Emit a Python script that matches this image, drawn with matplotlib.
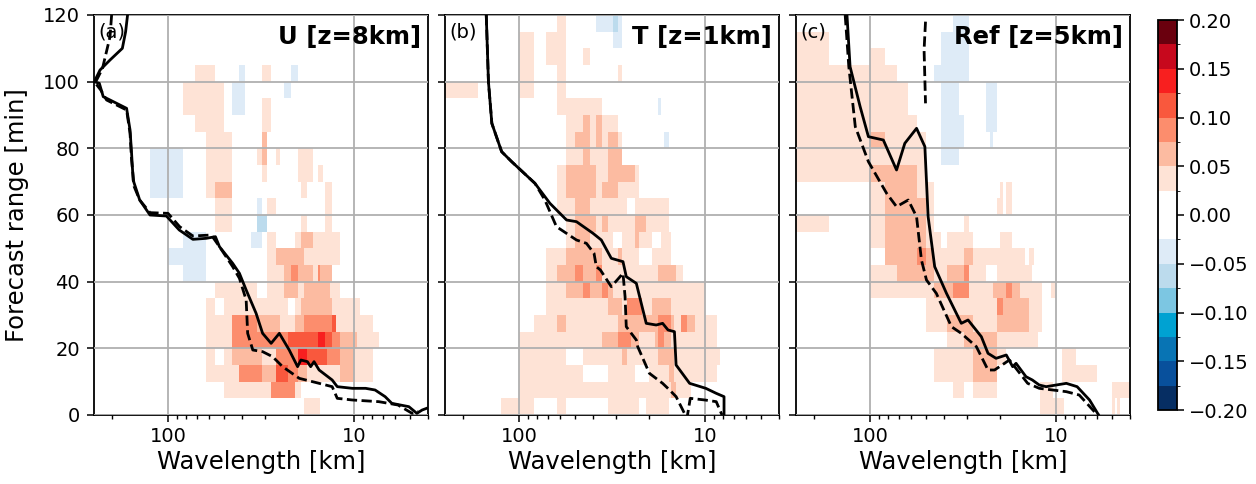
import numpy as np
import matplotlib.pyplot as plt
from matplotlib.colors import ListedColormap, BoundaryNorm
from matplotlib.ticker import FuncFormatter, NullFormatter, FixedLocator

# wavenumber bins -> wavelength edges [km], forecast time bins [min]
k_edges = np.arange(2, 126)
t_edges = np.arange(0, 125, 5)

levels = np.arange(-0.2, 0.2001, 0.025)
colors = ["#062e63", "#08509c", "#0874b4", "#00a2d2", "#7cc6e2", "#bcdbed",
          "#deebf7", "#ffffff", "#ffffff", "#fee3d6", "#fcbba1", "#fc8d6d",
          "#f9583d", "#f81f1f", "#c7081d", "#6a000e"]

# (k_start, k_end, t_start, t_end, value)
patches_u = [
    (7, 9, 100, 105, .04), (12, 13, 100, 105, -.04), (16, 18, 100, 105, .04),
    (23, 25, 100, 105, -.04), (6, 10, 90, 100, .04), (11, 13, 90, 100, -.04),
    (21, 23, 95, 100, -.04), (7, 10, 85, 90, .04), (8, 11, 65, 85, .04),
    (9, 11, 65, 70, .06), (9, 11, 60, 65, .04), (16, 18, 85, 95, .04),
    (16, 17, 75, 85, .06), (15, 16, 75, 80, .04), (16, 17, 70, 75, .04),
    (19, 20, 75, 80, .04), (4, 6, 65, 80, -.04), (25, 30, 70, 80, .04),
    (26, 28, 65, 70, .04), (32, 34, 70, 75, .04), (35, 38, 60, 70, .04),
    (15, 16, 60, 65, -.04), (17, 19, 60, 65, .04),
    (9, 11, 55, 60, .04), (15, 17, 55, 60, -.06), (14, 16, 50, 55, -.04),
    (26, 28, 55, 60, .04), (35, 38, 55, 60, .04), (17, 19, 50, 55, .04),
    (24, 26, 50, 55, .04), (26, 30, 50, 55, .06), (30, 42, 50, 55, .04),
    (6, 8, 40, 55, -.04), (5, 8, 45, 50, -.04),
    (17, 19, 45, 50, .04), (19, 27, 45, 50, .06), (27, 42, 45, 50, .04),
    (17, 21, 40, 45, .04), (21, 30, 40, 45, .06), (23, 25, 40, 45, .09),
    (30, 32, 40, 45, .04), (32, 38, 40, 45, .06), (32, 33, 40, 45, .09),
    (9, 15, 35, 40, .04), (17, 21, 35, 40, .04), (21, 25, 35, 40, .06),
    (25, 27, 35, 40, .04), (27, 37, 35, 40, .06), (37, 42, 35, 40, .04),
    (8, 9, 30, 35, .04), (10, 22, 30, 35, .04), (24, 26, 30, 35, .04),
    (26, 38, 30, 35, .06), (38, 54, 30, 35, .04),
    (8, 11, 25, 30, .04), (11, 15, 25, 30, .09), (15, 20, 25, 30, .06),
    (20, 24, 25, 30, .04), (24, 27, 25, 30, .06), (27, 38, 25, 30, .09),
    (38, 40, 25, 30, .11), (40, 63, 25, 30, .04),
    (8, 11, 20, 25, .04), (11, 22, 20, 25, .09), (22, 32, 20, 25, .11),
    (32, 35, 20, 25, .14), (35, 38, 20, 25, .11), (38, 42, 20, 25, .09),
    (42, 52, 20, 25, .06), (52, 68, 20, 25, .04),
    (8, 9, 15, 20, .04), (10, 11, 15, 20, .04), (11, 16, 15, 20, .06),
    (16, 19, 15, 20, .04), (19, 25, 15, 20, .09), (25, 28, 15, 20, .14),
    (28, 36, 15, 20, .11), (36, 42, 15, 20, .09), (42, 50, 15, 20, .06),
    (50, 63, 15, 20, .04),
    (8, 12, 10, 15, .04), (12, 16, 10, 15, .09), (16, 19, 10, 15, .06),
    (19, 22, 10, 15, .11), (22, 25, 10, 15, .09), (25, 28, 10, 15, .06),
    (28, 42, 10, 15, .04), (42, 50, 10, 15, .06), (50, 63, 10, 15, .04),
    (10, 18, 5, 10, .04), (18, 24, 5, 10, .09), (24, 26, 5, 10, .04),
    (27, 33, 0, 5, .04),
]

patches_t = [
    (8, 9, 115, 120, .04), (13, 16, 115, 120, -.04), (16, 17, 115, 120, -.06),
    (17, 18, 115, 120, -.04), (16, 18, 110, 115, -.04),
    (5, 6, 95, 115, .04), (7, 9, 105, 115, .04), (8, 9, 95, 105, .04),
    (11, 12, 105, 110, .04), (17, 18, 100, 105, .04), (2, 3, 95, 100, .04),
    (8, 14, 90, 95, .04), (28, 29, 90, 95, -.04),
    (9, 17, 85, 90, .04), (11, 12, 85, 90, .06), (13, 14, 85, 90, .06),
    (9, 18, 80, 85, .04), (10, 12, 80, 85, .06), (13, 14, 80, 85, .06),
    (15, 17, 80, 85, .06), (30, 32, 80, 85, -.04),
    (9, 18, 75, 80, .04), (11, 12, 75, 80, .06), (15, 18, 75, 80, .06),
    (8, 22, 70, 75, .04), (9, 13, 70, 75, .06), (15, 21, 70, 75, .06),
    (8, 22, 65, 70, .04), (9, 13, 65, 70, .06), (14, 17, 65, 70, .06),
    (8, 32, 60, 65, .04), (10, 12, 60, 65, .06), (19, 21, 60, 65, 0),
    (9, 32, 55, 60, .04), (10, 13, 55, 60, .06), (14, 15, 55, 60, .06),
    (21, 24, 55, 60, .06),
    (9, 33, 50, 55, .04), (10, 12, 50, 55, .06), (21, 22, 50, 55, .06),
    (16, 18, 50, 55, 0), (26, 29, 50, 55, 0),
    (7, 33, 45, 50, .04), (9, 14, 45, 50, .06), (17, 18, 45, 50, .06),
    (22, 26, 45, 50, 0),
    (7, 38, 40, 45, .04), (8, 13, 40, 45, .06), (10, 11, 40, 45, .09),
    (13, 14, 40, 45, .09), (28, 35, 40, 45, .06),
    (7, 50, 35, 40, .04), (9, 13, 35, 40, .06), (11, 12, 35, 40, .09),
    (13, 16, 35, 40, .06), (14, 15, 35, 40, .09),
    (7, 50, 30, 35, .04), (15, 18, 30, 35, .06), (19, 23, 30, 35, .09),
    (26, 33, 30, 35, .06),
    (6, 58, 25, 30, .04), (8, 9, 25, 30, .06), (17, 34, 25, 30, .06),
    (28, 33, 25, 30, .09), (37, 40, 25, 30, .09), (40, 44, 25, 30, .06),
    (5, 58, 20, 25, .04), (14, 22, 20, 25, .06), (17, 20, 20, 25, .09),
    (27, 33, 20, 25, .06), (28, 30, 20, 25, .09),
    (5, 60, 15, 20, .04), (9, 11, 15, 20, 0), (18, 19, 15, 20, .06),
    (28, 34, 15, 20, .06),
    (5, 58, 10, 15, .04), (11, 15, 10, 15, 0), (21, 25, 10, 15, 0),
    (32, 34, 10, 15, .06),
    (5, 42, 5, 10, .04), (33, 35, 5, 10, .06),
    (4, 6, 0, 5, .04), (8, 9, 0, 5, .04), (15, 22, 0, 5, .04),
    (24, 32, 0, 5, .04),
]

patches_ref = [
    (2, 3, 105, 115, .04), (5, 6, 105, 110, .04), (2, 7, 100, 105, .04),
    (2, 8, 90, 100, .04), (2, 9, 85, 90, .04), (2, 10, 75, 85, .04),
    (5, 6, 80, 85, .06),
    (2, 5, 70, 75, .04), (5, 9, 70, 75, .06), (9, 10, 70, 75, .04),
    (5, 6, 65, 70, .04), (6, 9, 65, 70, .06), (9, 11, 65, 70, .04),
    (5, 6, 60, 65, .04), (6, 10, 60, 65, .06), (10, 11, 60, 65, .04),
    (14, 17, 115, 120, -.04), (12, 17, 105, 115, -.04), (11, 17, 100, 105, -.04),
    (12, 15, 90, 100, -.04), (12, 16, 80, 90, -.04), (12, 15, 75, 80, -.04),
    (21, 24, 85, 100, -.04), (22, 23, 80, 85, -.04),
    (25, 26, 60, 70, .04), (27, 29, 60, 70, .04), (24, 25, 60, 65, .04),
    (2, 3, 55, 60, .04), (5, 6, 55, 60, .04), (6, 10, 55, 60, .06),
    (10, 11, 55, 60, .04), (16, 17, 55, 60, .04),
    (5, 6, 50, 55, .04), (6, 10, 50, 55, .06), (10, 12, 50, 55, .04),
    (13, 18, 50, 55, .04), (25, 29, 50, 55, .04),
    (6, 9, 45, 50, .06), (9, 10, 45, 50, .09), (10, 11, 45, 50, .06),
    (11, 16, 45, 50, .04), (16, 18, 45, 50, .06), (18, 34, 45, 50, .04),
    (36, 38, 45, 50, .04),
    (5, 7, 40, 45, .04), (7, 11, 40, 45, .06), (11, 13, 40, 45, .04),
    (13, 17, 40, 45, .06), (16, 17, 40, 45, .09), (17, 21, 40, 45, .04),
    (24, 37, 40, 45, .04),
    (5, 11, 35, 40, .04), (11, 17, 35, 40, .06), (14, 17, 35, 40, .09),
    (17, 23, 35, 40, .04), (23, 32, 35, 40, .06), (27, 29, 35, 40, .09),
    (32, 42, 35, 40, .04), (47, 50, 35, 40, .04),
    (10, 24, 30, 35, .04), (24, 36, 30, 35, .06), (24, 26, 30, 35, .09),
    (36, 42, 30, 35, .04),
    (10, 13, 25, 30, .04), (13, 18, 25, 30, .06), (18, 24, 25, 30, .04),
    (24, 36, 25, 30, .06), (36, 42, 25, 30, .04),
    (13, 16, 20, 25, .04), (16, 24, 20, 25, .06), (24, 40, 20, 25, .04),
    (11, 27, 15, 20, .04), (18, 24, 15, 20, .06), (54, 64, 15, 20, .04),
    (11, 24, 10, 15, .04), (18, 24, 10, 15, .06), (54, 83, 10, 15, .04),
    (14, 16, 5, 10, .04), (18, 24, 5, 10, .04), (41, 48, 5, 10, .04),
    (100, 125, 5, 10, .04),
    (41, 55, 0, 5, .04), (100, 104, 0, 5, .04), (107, 110, 0, 5, .04),
]

# contour lines: forecast time [min] and wavelength [km]
u_solid_t = [120, 115, 110, 106.5, 103.5, 100, 99.5, 95.5, 94.5, 92, 85.5, 78.5,
             70.5, 64.5, 60, 59.7, 55.5, 52.7, 53, 53.5, 50.5, 45.5, 42.5, 37.5,
             30.5, 24.5, 21.5, 24.5, 19.5, 14.5, 16.5, 16, 14.5, 16, 13.5, 10.5,
             8.5, 8, 8, 7.5, 5.5, 3.5, 2.5, 0.5, 1.5, 2]
u_solid_l = [165, 169, 176, 205, 232, 249, 234, 223, 205, 167, 160, 157,
             154, 142, 125, 102, 87, 73.5, 62.3, 55.6, 52.9, 44.9, 41.3, 38,
             33.6, 31, 27.9, 25.2, 22.3, 20.1, 19.3, 17.8, 17.1, 16.4, 15.4, 13.1,
             12.3, 10.2, 8.66, 7.7, 6.8, 6.26, 5.07, 4.59, 4.3, 4.07]
u_dash_t = [120, 113.5, 104, 100.5, 100, 97.5, 94.5, 91.5, 84.5, 76.5, 68.5, 64.5,
            60.7, 60.5, 56.5, 53.7, 54, 50.5, 44.5, 41, 34.5, 24.5, 19.5, 19,
            17.5, 14.5, 11, 9.5, 8.5, 5, 4.5, 4, 3, 0.5, 1]
u_dash_l = [201, 205, 225, 242, 249, 230, 214, 167, 160, 157, 152, 142,
            125, 100, 86.6, 73.5, 58.5, 52.9, 44.9, 41.3, 38, 37.3, 35, 31,
            27.4, 24.2, 19.7, 15.4, 13.1, 12.3, 10.2, 7.35, 5.8, 4.87, 4.5]

t_solid_t = [120, 100, 87.5, 79, 76, 69.5, 63.5, 58.5, 58, 54.5, 52.5, 47, 46,
             41.5, 39.5, 27.5, 27, 27.5, 25.5, 25, 15, 9.5, 8, 6.5, 5.5, 0]
t_solid_l = [150, 146, 140, 124, 109.5, 82.1, 68.2, 55.5, 49.1, 40, 36.1, 31.9, 27.6,
             26.5, 23.4, 20.7, 18.3, 16.9, 15.8, 14.6, 14.3, 12.1, 9.9, 8.7, 7.9, 7.9]
t_dash_t = [120, 100, 87.5, 79, 76, 69.5, 64.5, 56.5, 52.5, 51.5, 48.5, 44.5,
            43.5, 38.5, 42.5, 35.5, 26.5, 22.5, 20.5, 12.5, 9.5, 7.5, 5.5, -1,
            5, 4.5, 4, 0]
t_dash_l = [150, 146, 140, 124, 109.5, 82.1, 72.6, 62.9, 49.1, 43.4, 39.5, 38.4,
            36.5, 31.9, 27.6, 26.9, 26.5, 23.4, 23.0, 19.9, 16.9, 15.5, 14.3, 12.5,
            12.0, 10.0, 8.7, 8.1]

r_solid_t = [120, 104.5, 92.5, 83.5, 82.5, 73.5, 81.5, 86, 80.5, 59.5, 44.5, 36.5,
             27.5, 28.5, 23.5, 18.5, 17, 18, 14.5, 15.5, 11.5, 10.5, 9, 8.5, 9.5,
             8.5, 4.5, 0]
r_solid_l = [133, 128, 113, 102, 84.8, 72, 65, 56.2, 50.7, 48.7, 44.9, 38.8,
             32.3, 29.7, 25.2, 23.2, 21, 18.5, 17.1, 16.4, 14.5, 13.4, 12.3, 11.3, 8.8,
             7.7, 6.6, 5.9]
r_dash_t = [120, 104.5, 86.5, 76, 66.5, 62.5, 64.5, 59.5, 46.5, 40.5, 36.5, 26.5,
            24.5, 20.5, 13.5, 13.5, 16.5, 9.5, 8, 7, 6, 0.5, 0]
r_dash_l = [136, 130, 120, 102, 81.4, 72, 62.3, 56.2, 52.9, 49.7, 44, 36.5,
            32.3, 26.8, 23.2, 21.4, 17.8, 14.2, 12.3, 8.8, 7.5, 6.1, 5.9]
r_dash2_t = [118, 109.5, 93.5]
r_dash2_l = [50.3, 51.2, 50.3]

panels = [
    ("(a)", "U [z=8km]", patches_u, [(u_solid_t, u_solid_l, "-"), (u_dash_t, u_dash_l, "--")]),
    ("(b)", "T [z=1km]", patches_t, [(t_solid_t, t_solid_l, "-"), (t_dash_t, t_dash_l, "--")]),
    ("(c)", "Ref [z=5km]", patches_ref, [(r_solid_t, r_solid_l, "-"), (r_dash_t, r_dash_l, "--"),
                                          (r_dash2_t, r_dash2_l, "--")]),
]


def to_grid(patches):
    z = np.zeros((len(t_edges) - 1, len(k_edges) - 1))
    for k0, k1, t0, t1, v in patches:
        z[t0 // 5:t1 // 5, k0 - 2:k1 - 2] = v
    return z


cmap = ListedColormap(colors)
norm = BoundaryNorm(levels, cmap.N)
wl_edges = 500.0 / k_edges

fig = plt.figure(figsize=(12.56, 4.84), dpi=100)
lefts = [94, 445, 796]
for i, (tag, title, patches, lines) in enumerate(panels):
    ax = fig.add_axes([lefts[i] / 1256, 1 - 415 / 484, 334 / 1256, 400 / 484])
    ax.set_xscale("log")
    mesh = ax.pcolormesh(wl_edges, t_edges, to_grid(patches), cmap=cmap, norm=norm,
                         shading="flat", zorder=0)
    for tt, ll, ls in lines:
        ax.plot(ll, tt, color="black", ls=ls, lw=2.0, zorder=3)
    ax.set_xlim(250, 4)
    ax.set_ylim(0, 120)
    ax.set_yticks(np.arange(0, 121, 20))
    ax.xaxis.set_major_locator(FixedLocator([100, 10]))
    ax.xaxis.set_major_formatter(FuncFormatter(lambda v, p: "%d" % round(v)))
    ax.xaxis.set_minor_formatter(NullFormatter())
    ax.grid(True, which="major", color="#b0b0b0", lw=1.3)
    ax.set_axisbelow(False)
    ax.tick_params(which="major", length=5, width=1.1, labelsize=14)
    ax.tick_params(axis="y", which="major", pad=5)
    ax.tick_params(which="minor", length=3, width=1.0)
    for s in ax.spines.values():
        s.set_linewidth(1.3)
    ax.set_xlabel("Wavelength [km]", fontsize=17.5, labelpad=3)
    if i == 0:
        ax.set_ylabel("Forecast range [min]", fontsize=17.5)
        ax.yaxis.set_label_coords(-0.195, 0.5)
    else:
        ax.set_yticklabels([])
    ax.text(0.012, 0.98, tag, transform=ax.transAxes, ha="left", va="top", fontsize=14)
    ax.text(0.979, 0.975, title, transform=ax.transAxes, ha="right", va="top",
            fontsize=17.5, fontweight="bold")

cax = fig.add_axes([1158 / 1256, 1 - 410 / 484, 19 / 1256, 390 / 484])
cb = fig.colorbar(mesh, cax=cax, ticks=np.arange(-0.2, 0.201, 0.05))
cb.ax.yaxis.set_major_formatter(FuncFormatter(lambda v, p: ("%.2f" % (round(v, 3) + 0.0)).replace("-", "\u2212")))
cb.ax.tick_params(labelsize=14, length=5, width=1.1)
cb.outline.set_linewidth(1.3)

fig.savefig("out.png", dpi=100)
